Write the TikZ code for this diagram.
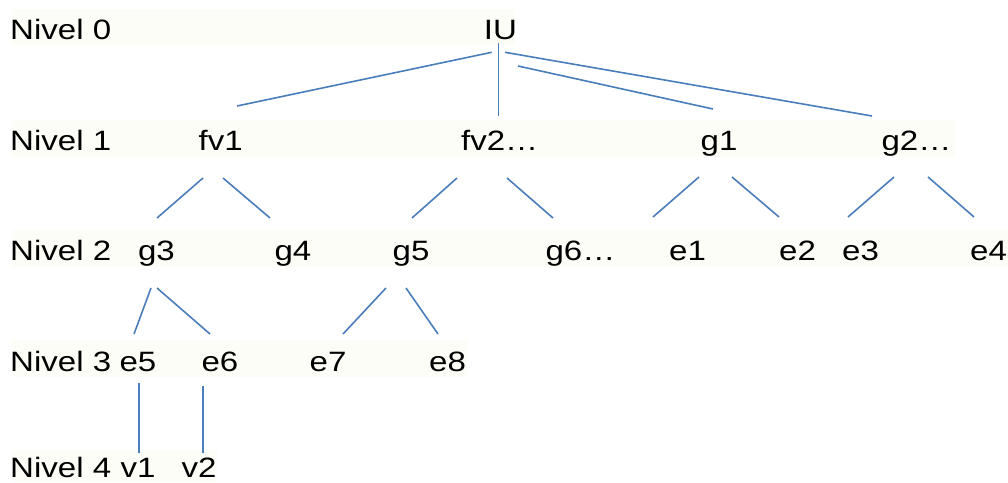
\documentclass[tikz,border=0pt]{standalone}
\usepackage{fontspec}
\setmainfont{Liberation Sans}[FakeStretch=1.18]
\definecolor{bandc}{RGB}{253,253,247}
\definecolor{linec}{RGB}{74,126,187}
\begin{document}
\begin{tikzpicture}[x=1pt,y=-1pt,
  lbl/.style={font=\fontsize{28}{32}\selectfont, inner sep=0pt, anchor=base},
  lvl/.style={font=\fontsize{28}{32}\selectfont, inner sep=0pt, anchor=base west},
  band/.style={fill=bandc, draw=none},
  conn/.style={draw=linec, line width=1.6pt}]
\useasboundingbox (0,0) rectangle (1008,482);
% background bands
\fill[band] (12,9) rectangle (515,45);
\fill[band] (12,120) rectangle (955,157);
\fill[band] (12,230) rectangle (1008,267);
\fill[band] (12,340) rectangle (467,377);
\fill[band] (12,450) rectangle (217,482);
% level labels
\node[lvl] (n0) at (10,39) {Nivel 0};
\node[lvl] (n1) at (10,150) {Nivel 1};
\node[lvl] (n2) at (10,260.7) {Nivel 2};
\node[lvl] (n3) at (10,371) {Nivel 3};
\node[lvl] (n4) at (10,477) {Nivel 4};
% nodes
\node[lbl] (IU) at (500.5,39) {IU};
\node[lbl] (fv1) at (220.7,150) {fv1};
\node[lbl] (fv2) at (499.7,150) {fv2…};
\node[lbl] (g1) at (719,150) {g1};
\node[lbl] (g2) at (916.5,150) {g2…};
\node[lbl] (g3) at (156.5,260.7) {g3};
\node[lbl] (g4) at (293,260.7) {g4};
\node[lbl] (g5) at (411,260.7) {g5};
\node[lbl] (g6) at (580.5,260.7) {g6…};
\node[lbl] (e1) at (687.5,260.7) {e1};
\node[lbl] (e2) at (797.5,260.7) {e2};
\node[lbl] (e3) at (860.5,260.7) {e3};
\node[lbl] (e4) at (988.5,260.7) {e4};
\node[lbl] (e5) at (138,371) {e5};
\node[lbl] (e6) at (220,371) {e6};
\node[lbl] (e7) at (328,371) {e7};
\node[lbl] (e8) at (447.5,371) {e8};
\node[lbl] (v1) at (138,477) {v1};
\node[lbl] (v2) at (199,477) {v2};
% connector end points
\coordinate (IU-a) at (491.7,52.3);
\coordinate (IU-b) at (498.3,43);
\coordinate (IU-c) at (518,66);
\coordinate (IU-d) at (505,52.3);
\coordinate (fv1-t) at (237,106);
\coordinate (fv2-t) at (498.3,115.7);
\coordinate (g1-t) at (713,109);
\coordinate (g2-t) at (872,116);
\coordinate (fv1-a) at (203,178);
\coordinate (fv1-b) at (223,178);
\coordinate (fv2-a) at (457,178);
\coordinate (fv2-b) at (507,178);
\coordinate (g1-a) at (699,177);
\coordinate (g1-b) at (732,177);
\coordinate (g2-a) at (894,177);
\coordinate (g2-b) at (928,177);
\coordinate (g3-t) at (157,218);
\coordinate (g4-t) at (270,218);
\coordinate (g5-t) at (412,218);
\coordinate (g6-t) at (553,218);
\coordinate (e1-t) at (653,217);
\coordinate (e2-t) at (779,217);
\coordinate (e3-t) at (848,217);
\coordinate (e4-t) at (974,217);
\coordinate (g3-a) at (151,288);
\coordinate (g3-b) at (157,288);
\coordinate (g5-a) at (386,288);
\coordinate (g5-b) at (406,288);
\coordinate (e5-t) at (134,334);
\coordinate (e6-t) at (210,334);
\coordinate (e7-t) at (343,334);
\coordinate (e8-t) at (438,334);
\coordinate (e5-b) at (139,383);
\coordinate (e6-b) at (203,386);
\coordinate (v1-t) at (139,453);
\coordinate (v2-t) at (203,453);
% connectors
\draw[conn] (IU-a) -- (fv1-t);
\draw[conn] (IU-b) -- (fv2-t);
\draw[conn] (IU-c) -- (g1-t);
\draw[conn] (IU-d) -- (g2-t);
\draw[conn] (fv1-a) -- (g3-t);
\draw[conn] (fv1-b) -- (g4-t);
\draw[conn] (fv2-a) -- (g5-t);
\draw[conn] (fv2-b) -- (g6-t);
\draw[conn] (g1-a) -- (e1-t);
\draw[conn] (g1-b) -- (e2-t);
\draw[conn] (g2-a) -- (e3-t);
\draw[conn] (g2-b) -- (e4-t);
\draw[conn] (g3-a) -- (e5-t);
\draw[conn] (g3-b) -- (e6-t);
\draw[conn] (g5-a) -- (e7-t);
\draw[conn] (g5-b) -- (e8-t);
\draw[conn] (e5-b) -- (v1-t);
\draw[conn] (e6-b) -- (v2-t);
\end{tikzpicture}
\end{document}
